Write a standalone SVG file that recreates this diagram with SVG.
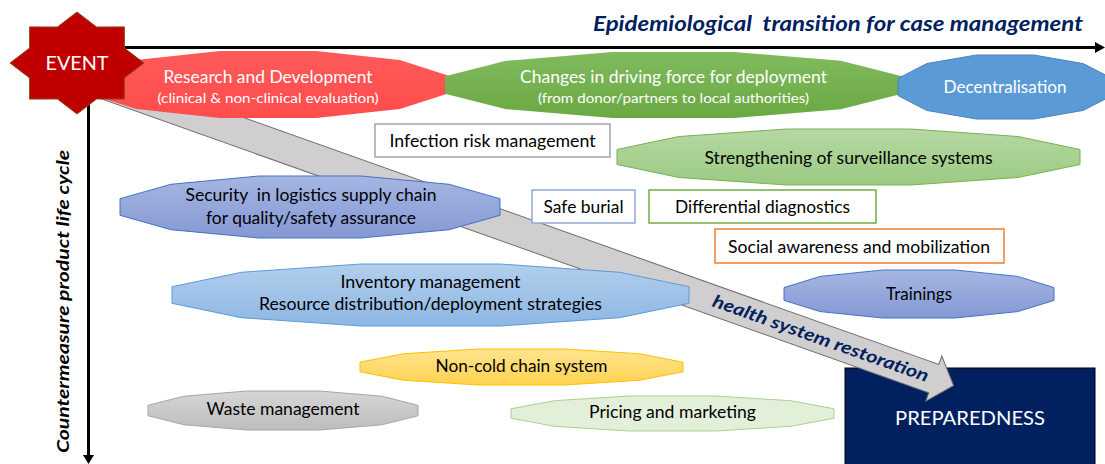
<svg xmlns="http://www.w3.org/2000/svg" width="1105" height="464" viewBox="0 0 1105 464">
<defs>
<linearGradient id="gRed" x1="0" y1="0" x2="0" y2="1"><stop offset="0" stop-color="#FF5A5A"/><stop offset="1" stop-color="#FF4C4C"/></linearGradient>
<linearGradient id="gGreen" x1="0" y1="0" x2="0" y2="1"><stop offset="0" stop-color="#80BA5E"/><stop offset="1" stop-color="#6AA942"/></linearGradient>
<linearGradient id="gStr" x1="0" y1="0" x2="0" y2="1"><stop offset="0" stop-color="#B5D8A3"/><stop offset="1" stop-color="#9BCA82"/></linearGradient>
<linearGradient id="gSec" x1="0" y1="0" x2="0" y2="1"><stop offset="0" stop-color="#A6B6E2"/><stop offset="1" stop-color="#8498D4"/></linearGradient>
<linearGradient id="gInv" x1="0" y1="0" x2="0" y2="1"><stop offset="0" stop-color="#B2CEEC"/><stop offset="1" stop-color="#8EB7E3"/></linearGradient>
<linearGradient id="gCold" x1="0" y1="0" x2="0" y2="1"><stop offset="0" stop-color="#FFE490"/><stop offset="1" stop-color="#FFD24F"/></linearGradient>
<linearGradient id="gWaste" x1="0" y1="0" x2="0" y2="1"><stop offset="0" stop-color="#D6D6D6"/><stop offset="1" stop-color="#BDBDBD"/></linearGradient>
</defs>
<style>
text{font-family:Lato,"Liberation Sans",sans-serif;}
.t{font-size:17px;fill:#000;text-anchor:middle;}
.w{font-size:17px;fill:#fff;text-anchor:middle;}
.ws{font-size:13.5px;fill:#fff;text-anchor:middle;}
.axis{stroke:#000;stroke-width:3;fill:none;}
.box{fill:#fff;stroke-width:1.5;}
</style>

<g id="preparedness">
  <rect x="845" y="368" width="250" height="100" fill="#002060" stroke="#000" stroke-width="1"/>
  <text x="970" y="425" text-anchor="middle" font-size="20" fill="#fff" textLength="150" lengthAdjust="spacingAndGlyphs">PREPAREDNESS</text>
</g>

<g id="connectors">
  <line class="axis" x1="118" y1="47.5" x2="1097" y2="47.5"/>
  <polygon points="1095,42 1105,47.5 1095,53" fill="#000"/>
  <line class="axis" x1="88.5" y1="95" x2="88.5" y2="456"/>
  <polygon points="83,455 88.5,464 94,455" fill="#000"/>
  <g id="restoration-arrow" transform="translate(80,75.4) rotate(19.55)">
    <polygon points="0,-15 906,-15 906,-24 927,0 906,24 906,15 0,15" fill="#D0CECE" stroke="#6E6E6E" stroke-width="1"/>
    <text x="786" y="6" text-anchor="middle" font-size="17.5" font-weight="bold" font-style="italic" fill="#002060" textLength="228" lengthAdjust="spacingAndGlyphs">health system restoration</text>
  </g>
</g>

<text x="838" y="31" text-anchor="middle" font-size="20" font-weight="bold" font-style="italic" fill="#002060" textLength="490" lengthAdjust="spacingAndGlyphs" xml:space="preserve">Epidemiological  transition for case management</text>
<text transform="translate(69,301.5) rotate(-90)" text-anchor="middle" font-size="17" font-weight="bold" font-style="italic" fill="#000" textLength="303" lengthAdjust="spacingAndGlyphs">Countermeasure product life cycle</text>

<g id="rd">
  <polygon points="88,75.5 136.2,60 219.8,51 316.2,51 399.8,60 448,75.5 448,93.5 399.8,109 316.2,118 219.8,118 136.2,109 88,93.5" fill="url(#gRed)"/>
  <text class="w" x="268" y="83" textLength="209" lengthAdjust="spacingAndGlyphs">Research and Development</text>
  <text class="ws" x="268" y="103" textLength="221" lengthAdjust="spacingAndGlyphs">(clinical &amp; non-clinical evaluation)</text>
</g>

<g id="event">
  <polygon points="77,12 96.6,27 124.4,26.9 124.4,48.1 144,63 124.4,77.9 124.4,99.1 96.6,99 77,114 57.4,99 29.6,99.1 29.6,77.9 10,63 29.6,48.1 29.6,26.9 57.4,27" fill="#C00000" stroke="#8B4A1E" stroke-width="1"/>
  <text x="77" y="70" text-anchor="middle" font-size="20" fill="#fff" textLength="63" lengthAdjust="spacingAndGlyphs">EVENT</text>
</g>

<g id="driving-force">
  <polygon points="445,76.2 506.2,60.8 612.3,52 734.7,52 840.8,60.8 902,76.2 902,93.8 840.8,109.2 734.7,118 612.3,118 506.2,109.2 445,93.8" fill="url(#gGreen)"/>
  <text class="w" x="673.5" y="83" textLength="307" lengthAdjust="spacingAndGlyphs">Changes in driving force for deployment</text>
  <text class="ws" x="673.5" y="103" textLength="271" lengthAdjust="spacingAndGlyphs">(from donor/partners to local authorities)</text>
</g>

<g id="decentralisation">
  <polygon points="898,78.4 926.7,63.6 976.3,55 1033.7,55 1083.3,63.6 1112,78.4 1112,95.6 1083.3,110.4 1033.7,119 976.3,119 926.7,110.4 898,95.6" fill="#5B9BD5" stroke="#4A84BE" stroke-width="1"/>
  <text class="w" x="1005" y="93" textLength="123" lengthAdjust="spacingAndGlyphs">Decentralisation</text>
</g>

<g id="infection">
  <rect class="box" x="375" y="124" width="235" height="33" stroke="#A5A5A5"/>
  <text class="t" x="492.5" y="147" textLength="206" lengthAdjust="spacingAndGlyphs">Infection risk management</text>
</g>

<g id="surveillance">
  <polygon points="617,149.5 679,136.5 786.5,129 910.5,129 1018,136.5 1080,149.5 1080,164.5 1018,177.5 910.5,185 786.5,185 679,177.5 617,164.5" fill="url(#gStr)" stroke="#78B155" stroke-width="1"/>
  <text class="t" x="848.5" y="164" textLength="288" lengthAdjust="spacingAndGlyphs">Strengthening of surveillance systems</text>
</g>

<g id="security">
  <polygon points="120,198.7 170.9,184.3 259.1,176 360.9,176 449.1,184.3 500,198.7 500,215.3 449.1,229.7 360.9,238 259.1,238 170.9,229.7 120,215.3" fill="url(#gSec)" stroke="#4472C4" stroke-width="1"/>
  <text class="t" x="311" y="201" textLength="251" lengthAdjust="spacingAndGlyphs" xml:space="preserve">Security  in logistics supply chain</text>
  <text class="t" x="311" y="224" textLength="210" lengthAdjust="spacingAndGlyphs">for quality/safety assurance</text>
</g>

<g id="safe-burial">
  <rect class="box" x="532" y="190" width="103" height="33" stroke="#8EA9DB"/>
  <text class="t" x="583.5" y="213" textLength="80" lengthAdjust="spacingAndGlyphs">Safe burial</text>
</g>

<g id="differential">
  <rect class="box" x="649" y="190" width="227" height="33" stroke="#70AD47"/>
  <text class="t" x="762.5" y="213" textLength="175" lengthAdjust="spacingAndGlyphs">Differential diagnostics</text>
</g>

<g id="social">
  <rect class="box" x="715" y="229" width="289" height="34" stroke="#ED7D31"/>
  <text class="t" x="859" y="252.5" textLength="262" lengthAdjust="spacingAndGlyphs">Social awareness and mobilization</text>
</g>

<g id="trainings">
  <polygon points="784,287.6 820.2,276.4 882.8,270 955.2,270 1017.8,276.4 1054,287.6 1054,300.4 1017.8,311.6 955.2,318 882.8,318 820.2,311.6 784,300.4" fill="url(#gSec)" stroke="#4472C4" stroke-width="1"/>
  <text class="t" x="919" y="300" textLength="66" lengthAdjust="spacingAndGlyphs">Trainings</text>
</g>

<g id="inventory">
  <polygon points="172,286.7 241.3,272.3 361.2,264 499.8,264 619.7,272.3 689,286.7 689,303.3 619.7,317.7 499.8,326 361.2,326 241.3,317.7 172,303.3" fill="url(#gInv)" stroke="#5B9BD5" stroke-width="1"/>
  <text class="t" x="430.5" y="288" textLength="180" lengthAdjust="spacingAndGlyphs">Inventory management</text>
  <text class="t" x="430.5" y="310" textLength="343" lengthAdjust="spacingAndGlyphs">Resource distribution/deployment strategies</text>
</g>

<g id="non-cold">
  <polygon points="360,362.2 403.3,353.8 478.2,349 564.8,349 639.7,353.8 683,362.2 683,371.8 639.7,380.2 564.8,385 478.2,385 403.3,380.2 360,371.8" fill="url(#gCold)" stroke="#FFC000" stroke-width="1"/>
  <text class="t" x="521.5" y="372" textLength="172" lengthAdjust="spacingAndGlyphs">Non-cold chain system</text>
</g>

<g id="waste">
  <polygon points="148,405.3 184.2,396.2 246.8,391 319.2,391 381.8,396.2 418,405.3 418,415.7 381.8,424.8 319.2,430 246.8,430 184.2,424.8 148,415.7" fill="url(#gWaste)" stroke="#A6A6A6" stroke-width="1"/>
  <text class="t" x="283" y="415" textLength="153" lengthAdjust="spacingAndGlyphs">Waste management</text>
</g>

<g id="pricing">
  <polygon points="511,408.8 554.3,400.7 629.2,396 715.8,396 790.7,400.7 834,408.8 834,418.2 790.7,426.3 715.8,431 629.2,431 554.3,426.3 511,418.2" fill="#E2F0D9" stroke="#A9D18E" stroke-width="1"/>
  <text class="t" x="672.5" y="418" textLength="167" lengthAdjust="spacingAndGlyphs">Pricing and marketing</text>
</g>
</svg>
